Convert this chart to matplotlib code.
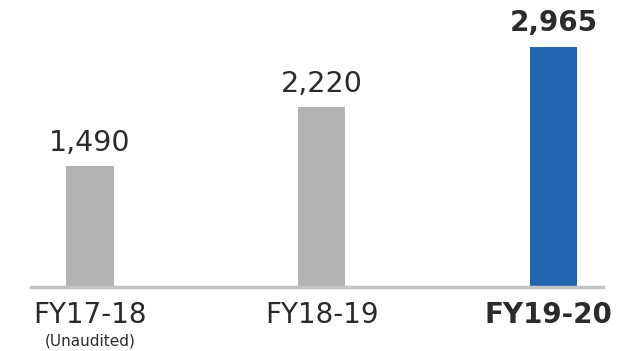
import matplotlib
matplotlib.use("Agg")
import matplotlib.pyplot as plt

categories = ["FY17-18", "FY18-19", "FY19-20"]
subtitles = ["(Unaudited)", "", ""]
values = [1490, 2220, 2965]
value_labels = ["1,490", "2,220", "2,965"]
colors = ["#b3b3b3", "#b3b3b3", "#2264b0"]
bold = [False, False, True]

plt.rcParams['font.family'] = ['DejaVu Sans']
fig = plt.figure(figsize=(6.24, 3.51), dpi=100)
W, H = 624, 351
ax = fig.add_axes([31 / W, 1 - 287 / H, (603 - 31) / W, 287 / H])

x = list(range(len(categories)))
ax.bar(x, values, width=0.203, color=colors, zorder=2)
ax.set_xlim(-0.2546, 2.2136)
ax.set_ylim(0, 3545)
for s in ["top", "right", "left"]:
    ax.spines[s].set_visible(False)
ax.spines["bottom"].set_color("#c4c4c4")
ax.spines["bottom"].set_linewidth(2.5)
ax.set_yticks([])
ax.set_xticks([])

txt = "#2b2b2b"
for xi, v, lab, b in zip(x, values, value_labels, bold):
    ax.annotate(lab, (xi, v), xytext=(0, 7), textcoords="offset points",
                ha="center", va="bottom", fontsize=20.5 if not b else 20,
                fontweight="bold" if b else "normal", color=txt)

for xi, cat, sub, b in zip(x, categories, subtitles, bold):
    if xi == len(categories) - 1:
        ax.annotate(cat, (1, 0), xycoords="axes fraction", xytext=(7, -20),
                    textcoords="offset points", ha="right", va="center",
                    fontsize=20, fontweight="bold" if b else "normal", color=txt)
    else:
        ax.annotate(cat, (xi, 0), xycoords=("data", "axes fraction"), xytext=(0, -20),
                    textcoords="offset points", ha="center", va="center",
                    fontsize=20, fontweight="bold" if b else "normal", color=txt)
    if sub:
        ax.annotate(sub, (xi, 0), xycoords=("data", "axes fraction"), xytext=(0, -39),
                    textcoords="offset points", ha="center", va="center",
                    fontsize=11, color=txt)

fig.savefig("out.png", dpi=100)
